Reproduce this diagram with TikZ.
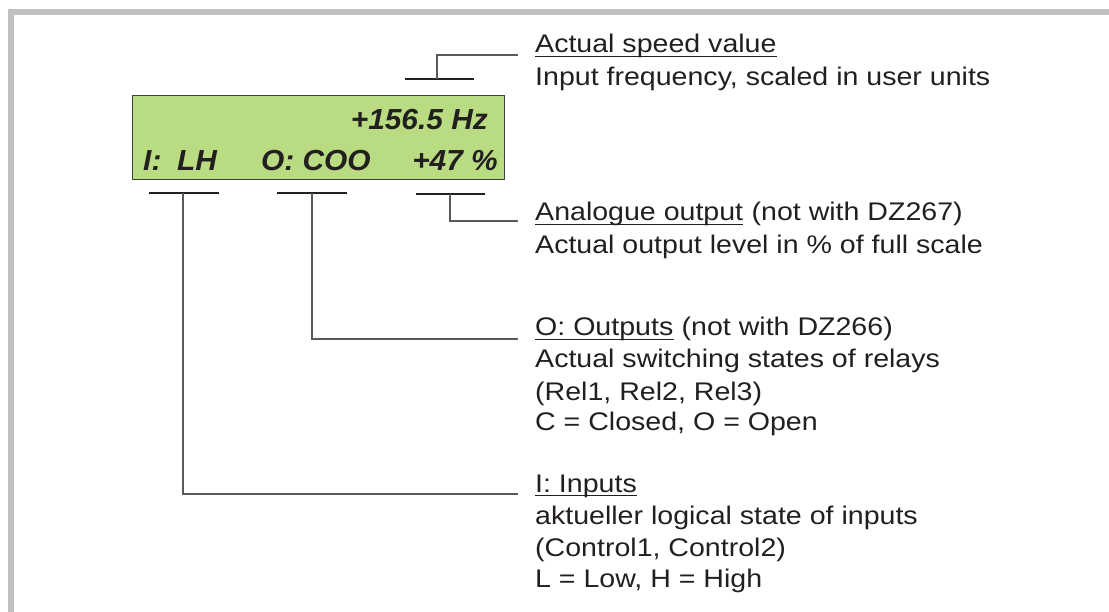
\documentclass[tikz,border=0pt]{standalone}
\usepackage{fontspec}
\newfontfamily\bodyfont{Liberation Sans}[FakeStretch=1.12]
\newfontfamily\lcdfont{Liberation Sans}[FakeStretch=1.03]
\definecolor{framegray}{RGB}{192,192,192}
\definecolor{lcdgreen}{RGB}{185,219,130}
\definecolor{textcol}{RGB}{35,31,32}
\definecolor{conncol}{RGB}{90,90,90}
\tikzset{
  lcd/.style={inner sep=0pt, font=\lcdfont\bfseries\itshape\fontsize{29}{32}\selectfont, text=textcol},
  txt/.style={anchor=base west, inner sep=0pt, font=\bodyfont\fontsize{25.5}{32}\selectfont, text=textcol},
  barline/.style={line width=2.3pt, draw=textcol},
  conn/.style={line width=1.2pt, draw=conncol},
  ul/.style={line width=1.4pt, draw=textcol},
}
\begin{document}
\begin{tikzpicture}[x=1pt,y=-1pt]
\useasboundingbox (0,0) rectangle (1109,612);
% frame
\fill[framegray] (8,9) rectangle (1109,15);
\fill[framegray] (8,9) rectangle (14,612);
% display
\node[draw=black!75, line width=1.2pt, fill=lcdgreen, minimum width=372pt, minimum height=84pt, inner sep=0pt, anchor=north west] (disp) at (132,95) {};
\node[lcd, anchor=base east] (hz) at (488,130) {+156.5 Hz};
\node[lcd, anchor=base west] (ilab) at (143,171) {I:};
\node[lcd, anchor=base west] (ival) at (177,171) {LH};
\node[lcd, anchor=base west] (oval) at (261,171) {O: COO};
\node[lcd, anchor=base east] (pct) at (498,171) {+47 \%};
% bars
\coordinate (tb) at (437,79);
\coordinate (b1) at (183,193);
\coordinate (b2) at (312,193);
\coordinate (b3) at (450,194);
\draw[barline] (405,79) -- (474,79);
\draw[barline] (149,193) -- (219,193);
\draw[barline] (277,193) -- (347,193);
\draw[barline] (416,194) -- (485,194);
% texts
\node[txt] (sp1) at (535,53) {Actual speed value};
\node[txt] (sp2) at (535,86) {Input frequency, scaled in user units};
\node[txt] (an1) at (535,221) {Analogue output};
\node[txt] (an1b) at ([xshift=8pt]an1.base east) {(not with DZ267)};
\node[txt] (an2) at (535,254) {Actual output level in \% of full scale};
\node[txt] (ou1) at (535,336) {O: Outputs};
\node[txt] (ou1b) at ([xshift=8pt]ou1.base east) {(not with DZ266)};
\node[txt] (ou2) at (535,368) {Actual switching states of relays};
\node[txt] (ou3) at (535,400) {(Rel1, Rel2, Rel3)};
\node[txt] (ou4) at (535,431) {C = Closed, O = Open};
\node[txt] (in1) at (535,492) {I: Inputs};
\node[txt] (in2) at (535,524) {aktueller logical state of inputs};
\node[txt] (in3) at (535,556) {(Control1, Control2)};
\node[txt] (in4) at (535,587) {L = Low, H = High};
% underlines
\foreach \n in {sp1,an1,ou1,in1}
  \draw[ul] ([yshift=-3.5pt]\n.base west) -- ([yshift=-3.5pt]\n.base east);
% connector ends
\coordinate (e0) at (518,55);
\coordinate (e1) at (518,221);
\coordinate (e2) at (518,339);
\coordinate (e3) at (518,494);
\draw[conn] (tb) |- (e0);
\draw[conn] (b3) |- (e1);
\draw[conn] (b2) |- (e2);
\draw[conn] (b1) |- (e3);
\end{tikzpicture}
\end{document}
